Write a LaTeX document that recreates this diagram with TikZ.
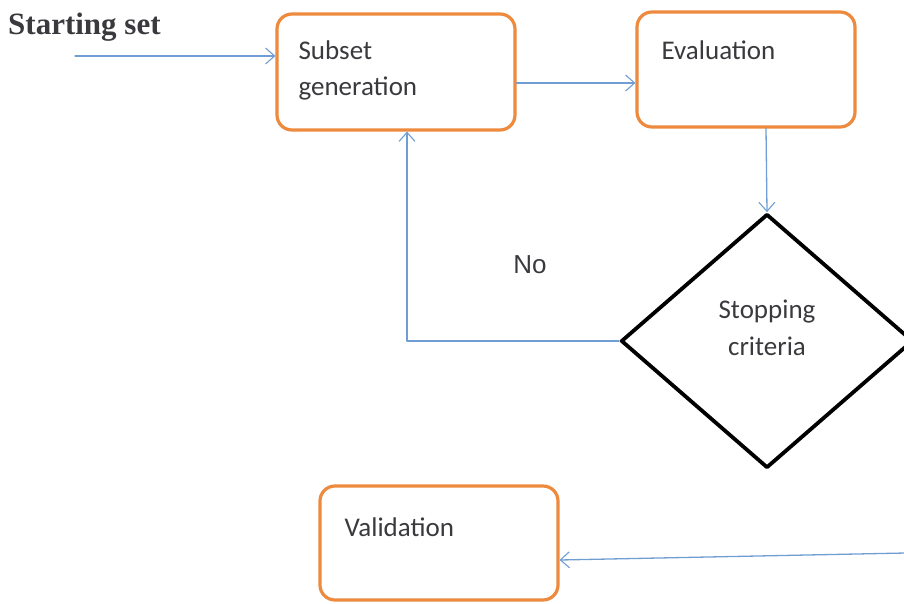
\documentclass[tikz,border=0pt]{standalone}
\usepackage{fontspec}
\setmainfont{Carlito}
\newfontfamily\timesfont{Liberation Serif}
\newfontfamily\arialfont{Liberation Sans}
\usetikzlibrary{shapes.geometric,arrows.meta}
\definecolor{boxorange}{RGB}{237,138,62}
\definecolor{lineblue}{RGB}{112,158,210}
\definecolor{txtgray}{RGB}{58,58,62}
\tikzset{
  box/.style={draw=boxorange, line width=3.2pt, rounded corners=15pt, fill=white},
  critbox/.style={draw=black, line width=3.8pt, shape=diamond, inner sep=0pt},
  arr/.style={draw=lineblue, line width=1.3pt, -{Straight Barb[length=9pt,width=16pt,line width=1.1pt]}},
  lbl/.style={inner sep=0pt, text=txtgray, font=\fontsize{27}{36}\selectfont, align=left, anchor=north west}
}
\begin{document}
\begin{tikzpicture}[x=1pt, y=-1pt, line join=round, line cap=round]
	\useasboundingbox (0,0) rectangle (904,604);
	\clip (0,0) rectangle (904,604);
	% boxes
	\node[box, minimum width=238pt, minimum height=116pt] (subset) at (396,72) {};
	\node[box, minimum width=218pt, minimum height=115pt] (eval) at (746,69.5) {};
	\node[box, minimum width=238pt, minimum height=114pt] (valid) at (439,543) {};
	\node[critbox, minimum width=292pt, minimum height=254pt] (crit) at (767,341) {};
	% texts
	\node[lbl] (subsettxt) at ([shift={(23,28)}]subset.north west) {Subset\\generation};
	\node[lbl] (evaltxt) at ([shift={(26,30)}]eval.north west) {Evaluation};
	\node[lbl] (validtxt) at ([shift={(26,33)}]valid.north west) {Validation};
	\node[lbl, anchor=center, align=center, font=\fontsize{27}{37}\selectfont] (crittxt) at ([yshift=13pt]crit.center) {Stopping\\criteria};
	\node[inner sep=0pt, anchor=base west, text=txtgray, font=\timesfont\bfseries\fontsize{31}{36}\selectfont] (start) at (8,35) {Starting set};
	\node[inner sep=0pt, text=txtgray, font=\arialfont\fontsize{26}{30}\selectfont] (no) at (530,265) {No};
	% connectors
	\coordinate (in) at (75,56);
	\coordinate (out) at (906,553);
	\draw[arr] (in) -- (subset.west |- in);
	\draw[arr] ([yshift=-11pt]subset.east) -- ([yshift=-13.5pt]eval.west);
	\draw[arr] ([xshift=20pt]eval.south) -- (crit.north);
	\draw[arr] (crit.west) -| ([xshift=11pt]subset.south);
	\draw[arr] (out) -- ([yshift=-17pt]valid.east);
\end{tikzpicture}
\end{document}
